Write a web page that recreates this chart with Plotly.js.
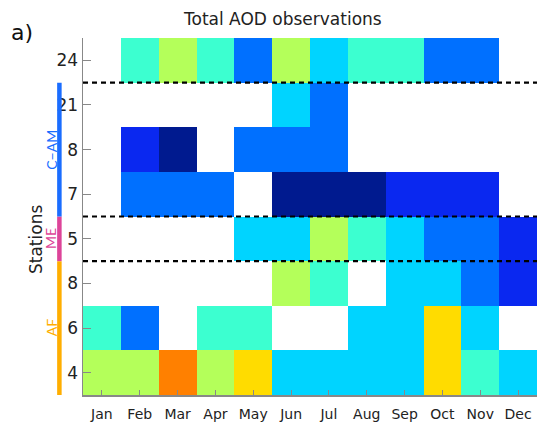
<!DOCTYPE html>
<html>
<head>
<meta charset="utf-8">
<script src="https://cdn.plot.ly/plotly-3.0.1.min.js"></script>
<style>html,body{margin:0;padding:0;background:#fff;}#chart{width:550px;height:428px;}</style>
</head>
<body>
<div id="chart"></div>
<script>
// Months (x categories)
const months = ["Jan","Feb","Mar","Apr","May","Jun","Jul","Aug","Sep","Oct","Nov","Dec"];
// Station tick labels, bottom to top
const stationLabels = ["4","6","8","5","7","8","21","24"];
// Observation class (1 = lowest .. 8 = highest), null = no data; rows bottom to top
const row4  = [6,6,8,6,7,4,4,4,4,7,5,4];
const row6  = [5,3,null,5,5,null,null,4,4,7,4,null];
const row8a = [null,null,null,null,null,6,5,null,4,4,3,2];
const row5  = [null,null,null,null,4,4,6,5,4,3,3,2];
const row7  = [null,3,3,3,null,1,1,1,2,2,2,null];
const row8b = [null,2,1,null,3,3,3,null,null,null,null,null];
const row21 = [null,null,null,null,null,4,3,null,null,null,null,null];
const row24 = [null,5,6,5,3,6,4,5,5,3,3,null];
const zRows = [row4,row6,row8a,row5,row7,row8b,row21,row24];
// Discrete class colours
const classColors = ["#001a8f","#0a28f0","#0070ff","#00d4ff","#3cffd0","#b4ff5a","#ffdc00","#ff8000"];
// Region groups: name, colour, bottom edge, top edge (row index units)
const groups = [["AF","#ffae00",-0.5,2.5],["ME","#dd4499",2.5,3.5],["C\u2212AM","#1a6dff",3.5,6.5]];
const separators = [2.5,3.5,6.5];

const n = classColors.length;
const cs = [];
classColors.forEach((c,i)=>{cs.push([i/n,c]);cs.push([(i+1)/n,c]);});

const yIdx = stationLabels.map((_,i)=>i);
const trace = {
  type:"heatmap", x: months.map((_,i)=>i), y: yIdx, z: zRows,
  colorscale: cs, zmin:0.5, zmax:n+0.5, showscale:false, hoverongaps:false
};

const shapes = [];
separators.forEach(s=>shapes.push({type:"line",xref:"paper",yref:"y",x0:0,x1:1,y0:s,y1:s,
  line:{color:"#000",width:2.2,dash:"5px,4px"}}));
const annotations = [];
groups.forEach(g=>{
  shapes.push({type:"line",xref:"paper",yref:"y",x0:-0.052,x1:-0.052,y0:g[2],y1:g[3],
    line:{color:g[1],width:4.5}});
  annotations.push({xref:"paper",yref:"y",x:-0.07,y:(g[2]+g[3])/2,text:g[0],showarrow:false,
    textangle:-90,font:{family:"Lato, sans-serif",size:14,color:g[1]},xanchor:"center",yanchor:"middle"});
});
annotations.push({xref:"paper",yref:"paper",x:-0.105,y:0.435,text:"Stations",showarrow:false,textangle:-90,
  font:{family:"DejaVu Sans, sans-serif",size:17,color:"#222"},xanchor:"center",yanchor:"middle"});
annotations.push({xref:"paper",yref:"paper",x:(282-83)/454,y:(395-19)/357,text:"Total AOD observations",showarrow:false,
  font:{family:"DejaVu Sans, sans-serif",size:17,color:"#222"},xanchor:"center",yanchor:"middle"});
annotations.push({xref:"paper",yref:"paper",x:(22-83)/454,y:(395-32)/357,text:"a)",showarrow:false,
  font:{family:"DejaVu Sans, sans-serif",size:22,color:"#111"},xanchor:"center",yanchor:"middle"});

const layout = {
  width:550,height:428,margin:{l:83,r:13,t:38,b:33},
  paper_bgcolor:"#fff",plot_bgcolor:"#fff",showlegend:false,
  xaxis:{range:[-0.5,11.5],tickvals:months.map((_,i)=>i),ticktext:months,showgrid:false,zeroline:false,
    showline:true,linecolor:"#888",linewidth:1.5,ticks:"inside",ticklen:5,tickcolor:"#888",
    ticklabelstandoff:6,tickfont:{family:"DejaVu Sans, sans-serif",size:14,color:"#222"}},
  yaxis:{range:[-0.5,7.5],tickvals:yIdx,ticktext:stationLabels,showgrid:false,zeroline:false,
    showline:true,linecolor:"#888",linewidth:1.5,ticks:"inside",ticklen:8,tickcolor:"#888",
    tickfont:{family:"DejaVu Sans, sans-serif",size:17,color:"#222"}},
  shapes:shapes,annotations:annotations
};
Plotly.newPlot("chart",[trace],layout,{displayModeBar:false,staticPlot:true});
</script>
</body>
</html>
